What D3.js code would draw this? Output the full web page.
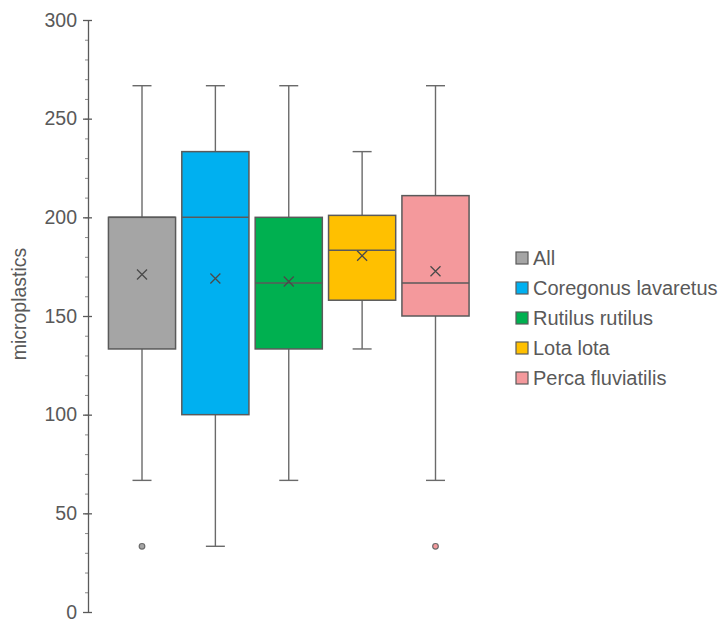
<!DOCTYPE html>
<html>
<head>
<meta charset="utf-8">
<script src="https://cdn.jsdelivr.net/npm/d3@7"></script>
<style>
  body { margin: 0; background: #fff; }
  svg text { font-family: "Liberation Sans", Arial, sans-serif; fill: #595959; }
</style>
</head>
<body>
<div class="chart"></div>
<script>
"use strict";

const categories = ["All", "Coregonus lavaretus", "Rutilus rutilus", "Lota lota", "Perca fluviatilis"];
const colors = ["#a5a5a5", "#00b0f0", "#00b050", "#ffc000", "#f4999c"];
const whiskerLow = [66.7, 33.3, 66.7, 133.3, 66.7];
const q1 = [133.3, 100, 133.3, 158, 150];
const medians = [200, 200, 166.7, 183.3, 166.7];
const q3 = [200, 233.3, 200, 201, 211];
const whiskerHigh = [266.7, 266.7, 266.7, 233.3, 266.7];
const means = [171, 169, 167.5, 180.5, 172.7];
const outliers = [[33.3], [], [], [], [33.3]];
const yTicks = [0, 50, 100, 150, 200, 250, 300];

const boxes = categories.map((c, i) => ({
  name: c, color: colors[i], lo: whiskerLow[i], q1: q1[i], med: medians[i],
  q3: q3[i], hi: whiskerHigh[i], mean: means[i], out: outliers[i]
}));

const width = 726;
const height = 622;
const svg = d3.select(".chart").append("svg")
  .attr("width", width)
  .attr("height", height);

const y = d3.scaleLinear().domain([0, 300]).range([612, 20]);
const x = d3.scaleBand().domain(categories).range([105.5, 472])
  .paddingInner(0.085).paddingOuter(0.04);

const stroke = "#5a5a5a";

// minor ticks
svg.append("g")
  .attr("transform", "translate(88,0)")
  .call(d3.axisLeft(y).tickValues(d3.range(0, 301, 10)).tickSize(3).tickFormat(""))
  .call((g) => g.select(".domain").remove())
  .call((g) => g.selectAll("line").attr("stroke", "#8a8a8a"));

// main axis
const axis = svg.append("g")
  .attr("transform", "translate(88,0)")
  .call(d3.axisLeft(y).tickValues(yTicks).tickSize(5).tickPadding(6).tickSizeOuter(0));
axis.select(".domain").attr("stroke", stroke).attr("stroke-width", 1.3);
axis.selectAll(".tick line").attr("x1", -5).attr("x2", 4).attr("stroke", stroke).attr("stroke-width", 1.3);
axis.selectAll(".tick text").attr("font-size", 19.5).style("fill", "#595959")
  .attr("font-family", "Liberation Sans, Arial, sans-serif");

svg.append("text")
  .attr("transform", "translate(19,304) rotate(-90)")
  .attr("text-anchor", "middle")
  .attr("dy", "0.36em")
  .attr("font-size", 19.5)
  .text("microplastics");

const g = svg.selectAll(".box").data(boxes).enter().append("g").attr("class", "box");
const cx = (d) => x(d.name) + x.bandwidth() / 2;
const capW = 9.5;

// whiskers
g.append("line")
  .attr("x1", cx).attr("x2", cx)
  .attr("y1", (d) => y(d.hi)).attr("y2", (d) => y(d.q3))
  .attr("stroke", "#6a6a6a").attr("stroke-width", 1.4);
g.append("line")
  .attr("x1", cx).attr("x2", cx)
  .attr("y1", (d) => y(d.q1)).attr("y2", (d) => y(d.lo))
  .attr("stroke", "#6a6a6a").attr("stroke-width", 1.4);
g.append("line")
  .attr("x1", (d) => cx(d) - capW).attr("x2", (d) => cx(d) + capW)
  .attr("y1", (d) => y(d.hi)).attr("y2", (d) => y(d.hi))
  .attr("stroke", "#6a6a6a").attr("stroke-width", 1.4);
g.append("line")
  .attr("x1", (d) => cx(d) - capW).attr("x2", (d) => cx(d) + capW)
  .attr("y1", (d) => y(d.lo)).attr("y2", (d) => y(d.lo))
  .attr("stroke", "#6a6a6a").attr("stroke-width", 1.4);

// boxes
g.append("rect")
  .attr("x", (d) => x(d.name))
  .attr("width", x.bandwidth())
  .attr("y", (d) => y(d.q3))
  .attr("height", (d) => y(d.q1) - y(d.q3))
  .attr("fill", (d) => d.color)
  .attr("stroke", stroke)
  .attr("stroke-width", 1.5);

// medians
g.append("line")
  .attr("x1", (d) => x(d.name)).attr("x2", (d) => x(d.name) + x.bandwidth())
  .attr("y1", (d) => y(d.med)).attr("y2", (d) => y(d.med))
  .attr("stroke", stroke).attr("stroke-width", 1.5);

// mean markers
const m = 5;
g.append("path")
  .attr("d", (d) => {
    const px = cx(d), py = y(d.mean);
    return `M${px - m},${py - m}L${px + m},${py + m}M${px - m},${py + m}L${px + m},${py - m}`;
  })
  .attr("stroke", "#4a4a4a").attr("stroke-width", 1.3).attr("fill", "none");

// outliers
g.selectAll("circle")
  .data((d) => d.out.map((v) => ({ v, d })))
  .enter().append("circle")
  .attr("cx", (o) => cx(o.d))
  .attr("cy", (o) => y(o.v))
  .attr("r", 2.8)
  .attr("fill", (o) => o.d.color)
  .attr("stroke", "#6a6a6a")
  .attr("stroke-width", 1.2);

// legend
const legend = svg.selectAll(".legend").data(boxes).enter().append("g")
  .attr("class", "legend")
  .attr("transform", (d, i) => `translate(516,${258 + i * 30})`);
legend.append("rect")
  .attr("x", 0).attr("y", -6).attr("width", 12).attr("height", 12)
  .attr("fill", (d) => d.color).attr("stroke", stroke).attr("stroke-width", 1.2);
legend.append("text")
  .attr("x", 17).attr("y", 0).attr("dy", "0.36em")
  .attr("font-size", 20)
  .text((d) => d.name);
</script>
</body>
</html>
